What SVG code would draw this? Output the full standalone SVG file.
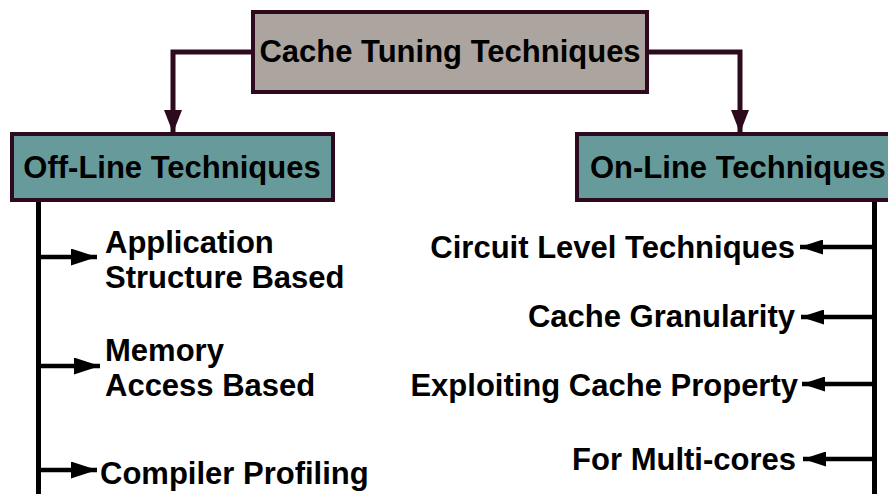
<svg xmlns="http://www.w3.org/2000/svg" width="888" height="494" viewBox="0 0 888 494">
  <defs>
    <marker id="headDark" viewBox="0 0 23 18" refX="23" refY="9" markerWidth="23" markerHeight="18" markerUnits="userSpaceOnUse" orient="auto">
      <path d="M0,0 L23,9 L0,18 Z" fill="#2e0a1e"/>
    </marker>
    <marker id="headRight" viewBox="0 0 26 17" refX="26" refY="8.5" markerWidth="26" markerHeight="17" markerUnits="userSpaceOnUse" orient="auto">
      <path d="M0,0 L26,8.5 L0,17 Z" fill="#000"/>
    </marker>
    <marker id="headLeft" viewBox="0 0 23 15" refX="23" refY="7.5" markerWidth="23" markerHeight="15" markerUnits="userSpaceOnUse" orient="auto">
      <path d="M0,0 L23,7.5 L0,15 Z" fill="#000"/>
    </marker>
  </defs>
  <style>
    .box { stroke: #2e0a1e; stroke-width: 4; }
    .root { fill: #aca49e; }
    .branch { fill: #679b9b; }
    text { font-family: "Liberation Sans", Arial, sans-serif; font-weight: bold; font-size: 31px; fill: #000; }
    .trunk { stroke: #000; stroke-width: 5; fill: none; }
    .tie { stroke: #2e0a1e; stroke-width: 5; fill: none; }
    .leaf { stroke: #000; stroke-width: 4.5; fill: none; }
  </style>
  <rect width="888" height="494" fill="#fff"/>

  <g id="connectors">
    <path class="tie" d="M253,52 H173 V133" marker-end="url(#headDark)"/>
    <path class="tie" d="M647,52 H740 V133" marker-end="url(#headDark)"/>
    <path class="trunk" d="M38.5,200 V494"/>
    <path class="leaf" d="M38,257 H97" marker-end="url(#headRight)"/>
    <path class="leaf" d="M38,366 H100" marker-end="url(#headRight)"/>
    <path class="leaf" d="M38,470 H97" marker-end="url(#headRight)"/>
    <path class="trunk" d="M874.5,200 V494"/>
    <path class="leaf" d="M875,247 H800" marker-end="url(#headLeft)"/>
    <path class="leaf" d="M875,317 H801" marker-end="url(#headLeft)"/>
    <path class="leaf" d="M875,384 H802" marker-end="url(#headLeft)"/>
    <path class="leaf" d="M875,459 H803" marker-end="url(#headLeft)"/>
  </g>

  <g id="root">
    <rect class="box root" x="253" y="12" width="394" height="80"/>
    <text x="450" y="62" text-anchor="middle">Cache Tuning Techniques</text>
  </g>

  <g id="offline">
    <rect class="box branch" x="12" y="134" width="321" height="66"/>
    <text x="172" y="178" text-anchor="middle">Off-Line Techniques</text>
  </g>

  <g id="online">
    <rect class="box branch" x="577" y="134" width="320" height="66"/>
    <text x="590" y="178">On-Line Techniques</text>
  </g>

  <g id="app-structure">
    <text x="105" y="253">Application</text>
    <text x="105" y="288">Structure Based</text>
  </g>
  <g id="memory-access">
    <text x="105" y="361">Memory</text>
    <text x="105" y="396">Access Based</text>
  </g>
  <g id="compiler-profiling">
    <text x="100" y="484">Compiler Profiling</text>
  </g>

  <g id="circuit-level">
    <text x="795" y="258" text-anchor="end">Circuit Level Techniques</text>
  </g>
  <g id="granularity">
    <text x="795" y="327" text-anchor="end">Cache Granularity</text>
  </g>
  <g id="cache-property">
    <text x="798" y="396" text-anchor="end">Exploiting Cache Property</text>
  </g>
  <g id="multicores">
    <text x="796" y="470" text-anchor="end">For Multi-cores</text>
  </g>
</svg>
